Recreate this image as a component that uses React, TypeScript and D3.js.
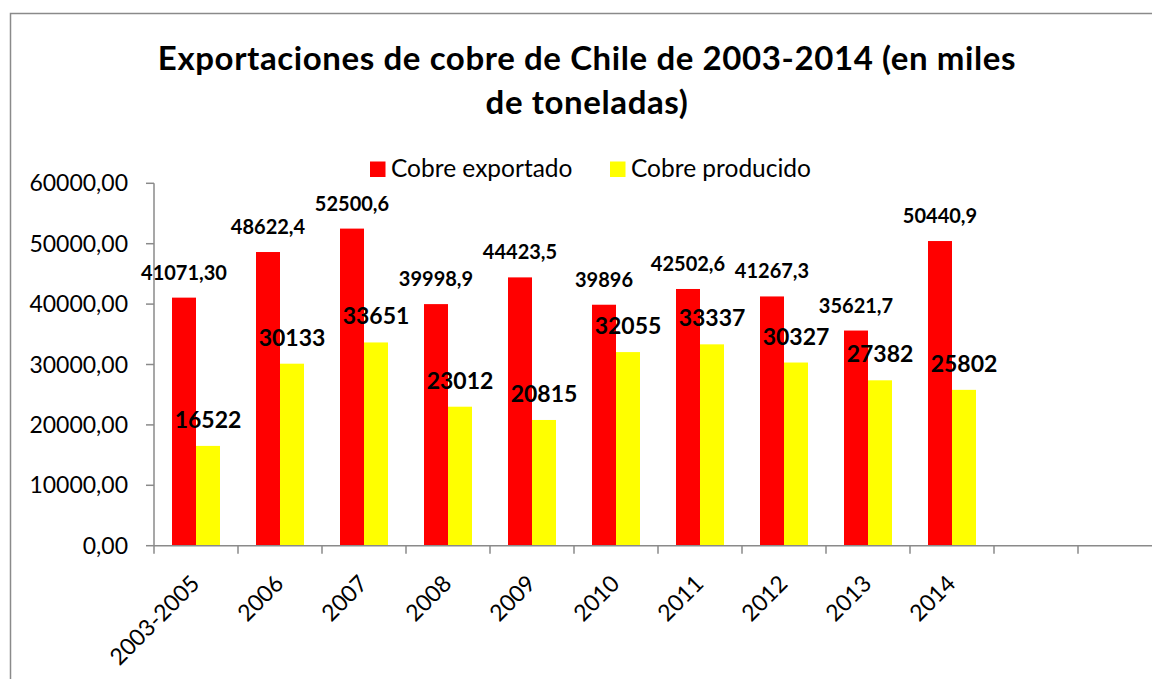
import React from "react";
import { scaleBand, scaleLinear, range } from "d3";

// Chart data
const categories = ["2003-2005", "2006", "2007", "2008", "2009", "2010", "2011", "2012", "2013", "2014", "", ""];
const exportado = [41071.3, 48622.4, 52500.6, 39998.9, 44423.5, 39896, 42502.6, 41267.3, 35621.7, 50440.9];
const producido = [16522, 30133, 33651, 23012, 20815, 32055, 33337, 30327, 27382, 25802];
const exportadoLabels = ["41071,30", "48622,4", "52500,6", "39998,9", "44423,5", "39896", "42502,6", "41267,3", "35621,7", "50440,9"];
const producidoLabels = ["16522", "30133", "33651", "23012", "20815", "32055", "33337", "30327", "27382", "25802"];
const yTicks = [0, 10000, 20000, 30000, 40000, 50000, 60000];
const seriesNames = ["Cobre exportado", "Cobre producido"];
const seriesColors = ["#FF0000", "#FFFF00"];
const titleLines = ["Exportaciones de cobre de Chile de 2003-2014 (en miles", "de toneladas)"];

const W = 1152;
const H = 679;
const FONT = "Lato, 'Open Sans', sans-serif";

export default function App() {
  const left = 154;
  const step = 84;
  const x = scaleBand<number>()
    .domain(range(categories.length))
    .range([left, left + step * categories.length])
    .padding(0);

  // two bars per category, gap width 150%
  const inner = scaleBand<number>()
    .domain([0, 1])
    .range([0, x.bandwidth()])
    .paddingInner(0)
    .paddingOuter(0.75);

  const y = scaleLinear().domain([0, 60000]).range([545.7, 183.3]);

  const fmtTick = (v: number) => v.toFixed(2).replace(".", ",");

  const series = [
    { values: exportado, labels: exportadoLabels, size: 20 },
    { values: producido, labels: producidoLabels, size: 23 },
  ];

  const legendX = [370, 610];

  return (
    <div style={{ position: "fixed", left: 0, top: 0 }}>
      <svg width={W} height={H} style={{ display: "block", background: "#fff" }}>
        {/* outer frame */}
        <rect x={10.5} y={13.5} width={1300} height={800} fill="#fff" stroke="#8a8a8a" strokeWidth={1.5} />

        {/* title */}
        {titleLines.map((t, i) => (
          <text
            key={i}
            x={587}
            y={70 + i * 44}
            textAnchor="middle"
            fontFamily={FONT}
            fontWeight="bold"
            fontSize={33}
            letterSpacing={0.6}
            fill="#000"
          >
            {t}
          </text>
        ))}

        {/* legend */}
        {seriesNames.map((n, i) => (
          <g key={n}>
            <rect x={legendX[i]} y={161.5} width={15.5} height={15.5} fill={seriesColors[i]} />
            <text x={legendX[i] + 21} y={176.5} fontFamily={FONT} fontSize={24.5} fill="#000">
              {n}
            </text>
          </g>
        ))}

        {/* bars */}
        {series.map((s, si) =>
          s.values.map((v, i) => (
            <rect
              key={`b${si}-${i}`}
              x={(x(i) as number) + (inner(si) as number)}
              y={y(v)}
              width={inner.bandwidth()}
              height={y(0) - y(v)}
              fill={seriesColors[si]}
            />
          ))
        )}

        {/* axes */}
        <g stroke="#8a8a8a" strokeWidth={1.5} fill="none">
          <line x1={left} x2={left} y1={y(60000)} y2={y(0)} />
          <line x1={left} x2={W + 20} y1={y(0)} y2={y(0)} />
          {yTicks.map((t) => (
            <line key={`yt${t}`} x1={left - 8} x2={left} y1={y(t)} y2={y(t)} />
          ))}
          {range(categories.length + 1).map((i) => (
            <line key={`xt${i}`} x1={left + i * step} x2={left + i * step} y1={y(0)} y2={y(0) + 8} />
          ))}
        </g>

        {/* y tick labels */}
        {yTicks.map((t) => (
          <text key={`yl${t}`} x={128} y={y(t) + 8} textAnchor="end" fontFamily={FONT} fontSize={23} fill="#000">
            {fmtTick(t)}
          </text>
        ))}

        {/* x tick labels */}
        {categories.map((c, i) => {
          const cx = (x(i) as number) + x.bandwidth() / 2 + 5;
          return (
            <text
              key={`xl${i}`}
              transform={`translate(${cx},585) rotate(-45)`}
              textAnchor="end"
              fontFamily={FONT}
              fontSize={23}
              fill="#000"
            >
              {c}
            </text>
          );
        })}

        {/* data labels */}
        {series.map((s, si) =>
          s.values.map((v, i) => (
            <text
              key={`l${si}-${i}`}
              x={(x(i) as number) + (inner(si) as number) + inner.bandwidth() / 2}
              y={y(v) - 18}
              textAnchor="middle"
              fontFamily={FONT}
              fontWeight="bold"
              fontSize={s.size}
              fill="#000"
            >
              {s.labels[i]}
            </text>
          ))
        )}
      </svg>
    </div>
  );
}
